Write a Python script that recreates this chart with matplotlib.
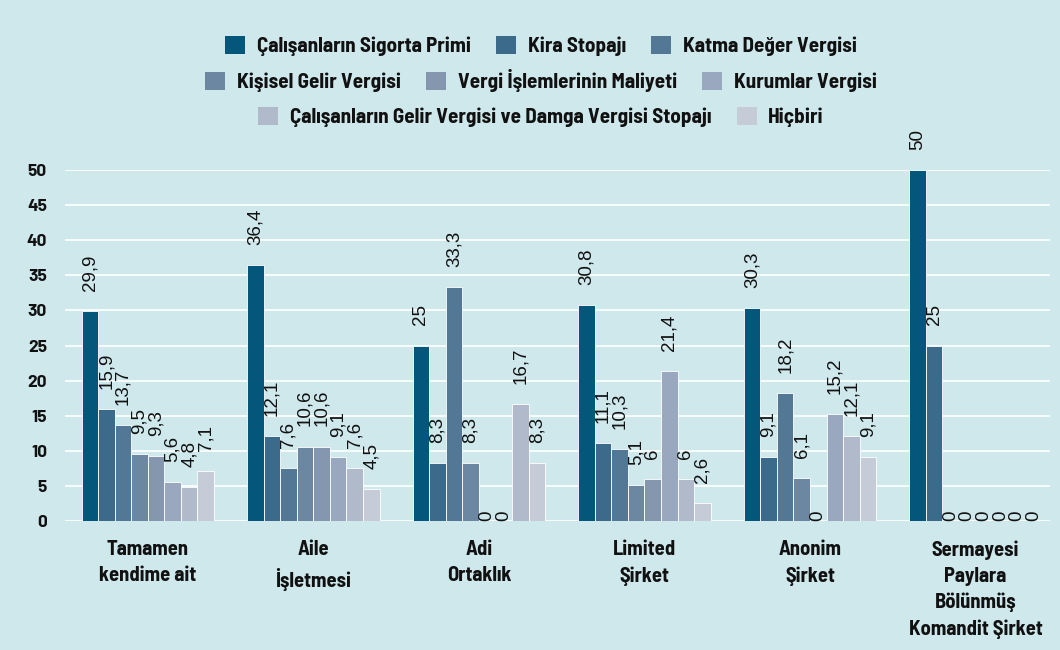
import matplotlib
matplotlib.use("Agg")
import matplotlib.pyplot as plt
from matplotlib.patches import Patch
import numpy as np

categories = ["Tamamen\nkendime ait", "Aile\nİşletmesi", "Adi\nOrtaklık",
              "Limited\nŞirket", "Anonim\nŞirket",
              "Sermayesi\nPaylara\nBölünmüş\nKomandit Şirket"]

series_names = ["Çalışanların Sigorta Primi", "Kira Stopajı", "Katma Değer Vergisi",
                "Kişisel Gelir Vergisi", "Vergi İşlemlerinin Maliyeti", "Kurumlar Vergisi",
                "Çalışanların Gelir Vergisi ve Damga Vergisi Stopajı", "Hiçbiri"]

sigorta_primi = [29.9, 36.4, 25.0, 30.8, 30.3, 50.0]
kira_stopaji = [15.9, 12.1, 8.3, 11.1, 9.1, 25.0]
kdv = [13.7, 7.6, 33.3, 10.3, 18.2, 0]
kisisel_gelir = [9.5, 10.6, 8.3, 5.1, 6.1, 0]
islem_maliyeti = [9.3, 10.6, 0, 6.0, 0, 0]
kurumlar = [5.6, 9.1, 0, 21.4, 15.2, 0]
gelir_damga = [4.8, 7.6, 16.7, 6.0, 12.1, 0]
hicbiri = [7.1, 4.5, 8.3, 2.6, 9.1, 0]

series_values = [sigorta_primi, kira_stopaji, kdv, kisisel_gelir,
                 islem_maliyeti, kurumlar, gelir_damga, hicbiri]

colors = ["#04567a", "#3b6a8a", "#527896", "#6b87a2",
          "#8497ae", "#99a8bf", "#b0bacb", "#c5ccd8"]

yticks = [0, 5, 10, 15, 20, 25, 30, 35, 40, 45, 50]

BG = "#cfe8ec"
TXT = "#111111"
COND = "Barlow Semi Condensed"

fig = plt.figure(figsize=(10.6, 6.5), dpi=100, facecolor=BG)
ax = fig.add_axes([65 / 1060, 129 / 650, (1050 - 65) / 1060, 351 / 650])
ax.set_facecolor(BG)

n = len(series_values)
bw = 0.1
x = np.arange(len(categories))
for i, (vals, c) in enumerate(zip(series_values, colors)):
    pos = x + (i - (n - 1) / 2) * bw
    ax.bar(pos, vals, width=bw, color=c, edgecolor="white", linewidth=0.6, zorder=3)
    for xp, v in zip(pos, vals):
        label = f"{v:g}".replace(".", ",")
        off = 14.5 if v > 0 else 0
        ax.annotate(label, (xp, v), xytext=(0, off), textcoords="offset points",
                    rotation=90, ha="center", va="bottom", fontsize=13.5,
                    family="Liberation Sans", color=TXT, zorder=4,
                    annotation_clip=False)

ax.set_xlim(-0.5, 5.45)
ax.set_ylim(0, 50)
ax.set_yticks(yticks)
ax.set_yticklabels([str(t) for t in yticks], fontsize=12.5, fontweight="bold",
                   family="Barlow", color=TXT)
ax.tick_params(axis="y", length=0, pad=13)
ax.set_xticks(x)
ax.set_xticklabels(categories, fontsize=14.8, fontweight="bold", family=COND,
                   color=TXT, linespacing=1.45)
ax.tick_params(axis="x", length=0, pad=14)
ax.grid(axis="y", color="white", linewidth=1.2, zorder=0)
for s in ax.spines.values():
    s.set_visible(False)

# three centred legend rows above the plot
rows = [[0, 1, 2], [3, 4, 5], [6, 7]]
row_y = [46, 81, 117]
for r, yy in zip(rows, row_y):
    handles = [Patch(facecolor=colors[i], edgecolor="none") for i in r]
    leg = fig.legend(handles, [series_names[i] for i in r], loc="center",
                     bbox_to_anchor=(541 / 1060, 1 - yy / 650), ncol=len(r), frameon=False,
                     prop={"family": COND, "weight": "bold", "size": 15.2},
                     handlelength=0.95, handleheight=0.95, handletextpad=0.55,
                     columnspacing=1.2, borderpad=0, borderaxespad=0)
    for t in leg.get_texts():
        t.set_color(TXT)

fig.savefig("out.png", dpi=100, facecolor=BG)
